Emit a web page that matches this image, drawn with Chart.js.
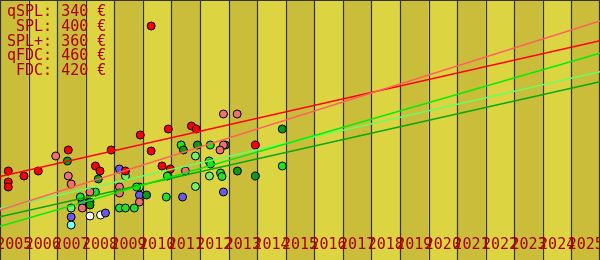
<!DOCTYPE html>
<html>
<head>
<meta charset="utf-8">
<script src="https://cdn.jsdelivr.net/npm/chart.js@4/dist/chart.umd.min.js"></script>
<style>
  body { margin: 0; background: #fff; }
  #wrap { position: relative; width: 600px; height: 260px; }
  #prices {
    position: absolute; left: 7px; top: 4px; margin: 0;
    font: 15px/14.8px "DejaVu Sans Mono", monospace; color: #aa0000;
    white-space: pre; pointer-events: none;
  }
</style>
</head>
<body>
<div id="wrap">
  <canvas id="myChart" width="600" height="260"></canvas>
  <pre id="prices"></pre>
</div>
<script>
// price labels (top left)
const priceNames = ['qSPL', 'SPL', 'SPL+', 'qFDC', 'FDC']
const priceValues = [340, 400, 360, 460, 420]

// year bands
const years = [2005, 2006, 2007, 2008, 2009, 2010, 2011, 2012, 2013, 2014, 2015,
  2016, 2017, 2018, 2019, 2020, 2021, 2022, 2023, 2024, 2025]

// points: [year, value]
const redPts = [[2010.29, 234], [2009.91, 125], [2007.39, 110], [2008.89, 110], [2010.29, 109],
  [2005.29, 89], [2005.84, 84], [2006.34, 89], [2005.29, 78], [2005.29, 73], [2008.34, 94],
  [2008.50, 89], [2009.39, 89], [2010.89, 131], [2011.70, 134], [2011.87, 131], [2010.67, 94],
  [2010.96, 91], [2013.94, 115]]
const salmonPts = [[2006.95, 104], [2007.39, 84], [2007.49, 76], [2009.18, 73], [2009.18, 67],
  [2008.15, 68], [2007.88, 52], [2009.88, 58], [2012.82, 146], [2013.30, 146], [2012.82, 115],
  [2012.70, 110], [2011.49, 89]]
const darkGreenPts = [[2007.36, 99], [2008.44, 81], [2008.15, 58], [2008.15, 55], [2010.13, 65],
  [2011.42, 110], [2011.91, 115], [2012.89, 115], [2013.31, 89], [2013.94, 84], [2014.88, 131]]
const greenPts = [[2008.34, 68], [2007.81, 63], [2009.18, 52], [2009.39, 52], [2009.70, 52],
  [2009.78, 73], [2011.34, 115], [2012.36, 115], [2012.32, 99], [2012.37, 96], [2010.86, 84],
  [2012.72, 87], [2012.77, 83.5], [2010.82, 63], [2014.88, 94]]
const lightGreenPts = [[2009.39, 84], [2009.88, 73], [2007.49, 52], [2011.84, 104], [2012.33, 84],
  [2011.84, 73.5]]
const bluePts = [[2009.18, 91], [2007.88, 58], [2007.49, 43], [2008.69, 47], [2009.88, 65],
  [2011.39, 63], [2012.82, 68]]
const cyanPts = [[2007.49, 35]]
const whitePts = [[2008.15, 44], [2008.52, 45]]

// trend lines: value at 2005 and at 2026
const trendX = [2005, 2026]
const redTrend = [83.5, 219.3]
const salmonTrend = [50, 239]
const greenTrend = [33.6, 206.7]
const lightGreenTrend = [51.5, 188.3]
const darkGreenTrend = [43.3, 178.3]

document.getElementById('prices').textContent = priceNames.map((n, i) =>
  n.padStart(4, ' ') + ': ' + priceValues[i] + ' €').join('\n')

function pts(arr) { return arr.map(p => ({x: p[0], y: p[1]})) }
function trend(vals) { return vals.map((v, i) => ({x: trendX[i], y: v})) }

function scatterSet(arr, color) {
  return {
    type: 'scatter', data: pts(arr), backgroundColor: color, borderColor: '#000',
    borderWidth: 1, pointRadius: 4, pointHoverRadius: 4
  }
}
function lineSet(vals, color) {
  return {
    type: 'line', data: trend(vals), borderColor: color, borderWidth: 1.5,
    pointRadius: 0, fill: false, tension: 0
  }
}

const bands = {
  id: 'bands',
  beforeDatasetsDraw(chart) {
    const ctx = chart.ctx
    const xs = chart.scales.x
    const a = chart.chartArea
    ctx.save()
    years.forEach((yr, i) => {
      const l = xs.getPixelForValue(yr)
      const r = xs.getPixelForValue(yr + 1)
      ctx.fillStyle = i % 2 == 0 ? '#c9bd3a' : '#ddd441'
      ctx.fillRect(l, a.top, r - l, a.bottom - a.top)
    })
    ctx.strokeStyle = '#33333f'
    ctx.lineWidth = 1.2
    years.concat([2026]).forEach(yr => {
      let x = Math.round(xs.getPixelForValue(yr)) + 0.5
      if (x > a.right) x = a.right - 0.5
      ctx.beginPath()
      ctx.moveTo(x, a.top)
      ctx.lineTo(x, a.bottom)
      ctx.stroke()
    })
    ctx.beginPath()
    ctx.moveTo(a.left, a.top + 0.5)
    ctx.lineTo(a.right, a.top + 0.5)
    ctx.stroke()
    ctx.restore()
  },
  afterDatasetsDraw(chart) {
    const ctx = chart.ctx
    const xs = chart.scales.x
    ctx.save()
    ctx.font = '15px "DejaVu Sans Mono"'
    ctx.fillStyle = '#aa0000'
    ctx.textAlign = 'center'
    ctx.textBaseline = 'middle'
    years.forEach(yr => {
      ctx.fillText(String(yr), xs.getPixelForValue(yr + 0.5), 245)
    })
    ctx.restore()
  }
}

new Chart(document.getElementById('myChart').getContext('2d'), {
  data: {
    datasets: [
      lineSet(salmonTrend, '#ff6060'),
      lineSet(redTrend, '#ff0000'),
      lineSet(greenTrend, '#00ee00'),
      lineSet(lightGreenTrend, '#66ff66'),
      lineSet(darkGreenTrend, '#00aa00'),
      scatterSet(redPts, '#ff0000'),
      scatterSet(salmonPts, '#f07070'),
      scatterSet(darkGreenPts, '#119911'),
      scatterSet(greenPts, '#22e022'),
      scatterSet(lightGreenPts, '#77f066'),
      scatterSet(bluePts, '#6a5ae8'),
      scatterSet(cyanPts, '#77ffff'),
      scatterSet(whitePts, '#ffffff')
    ]
  },
  options: {
    responsive: false,
    animation: false,
    layout: { padding: 0, autoPadding: false },
    plugins: { legend: { display: false }, tooltip: { enabled: false } },
    scales: {
      x: { type: 'linear', min: 2005, max: 2026, display: false },
      y: { type: 'linear', min: 0, max: 260, display: false }
    }
  },
  plugins: [bands]
})
</script>
</body>
</html>
